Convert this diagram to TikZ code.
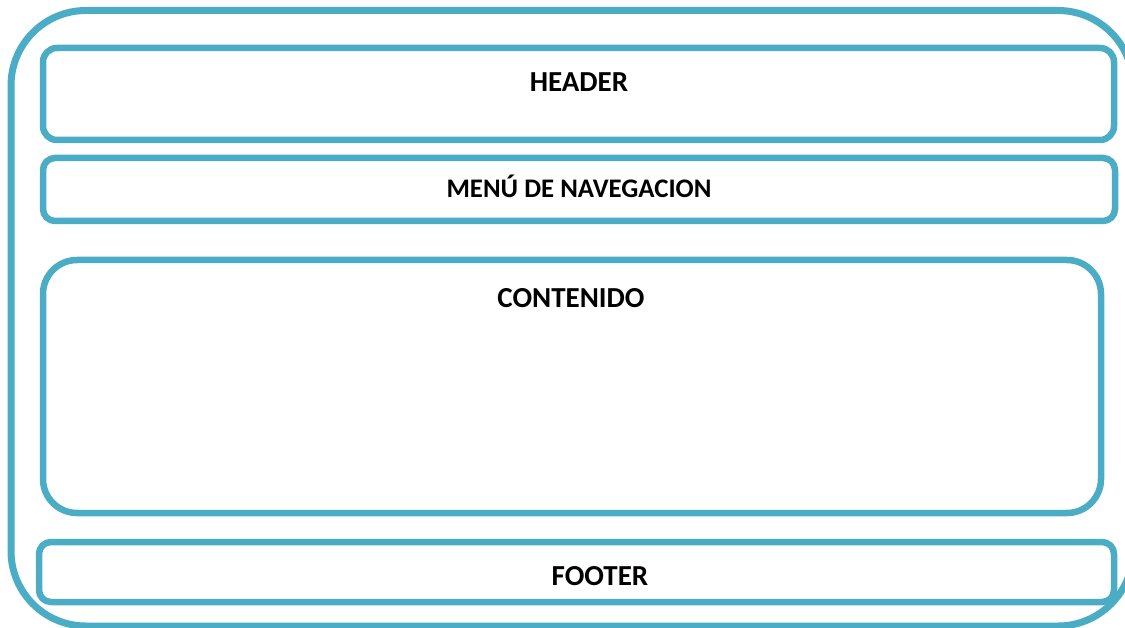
\documentclass[tikz,border=0pt]{standalone}
\usepackage{fontspec}
\setmainfont{Carlito}
\usetikzlibrary{positioning}
\definecolor{marco}{HTML}{4BACC6}

\begin{document}
\begin{tikzpicture}[x=1pt, y=-1pt,
		caja/.style={draw=marco, line width=6.5pt, rounded corners=14pt},
		titulo/.style={anchor=base, font=\fontsize{29}{32}\selectfont\bfseries, inner sep=0pt}]
				\useasboundingbox (0,0) rectangle (1125,628);
				% contenedor exterior
				\draw[caja, line width=7pt, rounded corners=75pt] (11,10.5) rectangle (1133,626);
				% secciones
				\draw[caja] (43,48) rectangle (1114,140);
				\draw[caja, rounded corners=12pt] (43,158) rectangle (1115,221);
				\draw[caja, rounded corners=34pt] (43,260) rectangle (1101,513);
				\draw[caja, rounded corners=12pt] (39,542) rectangle (1114,602);
				
				\node[titulo] (header) at (579,92) {HEADER};
				\node[titulo, font=\fontsize{26.8}{30}\selectfont\bfseries] (menu) at (579,198) {MENÚ DE NAVEGACION};
				\node[titulo] (contenido) at (571,308) {CONTENIDO};
				\node[titulo] (footer) at (600,585) {FOOTER};
			\end{tikzpicture}
\end{document}
